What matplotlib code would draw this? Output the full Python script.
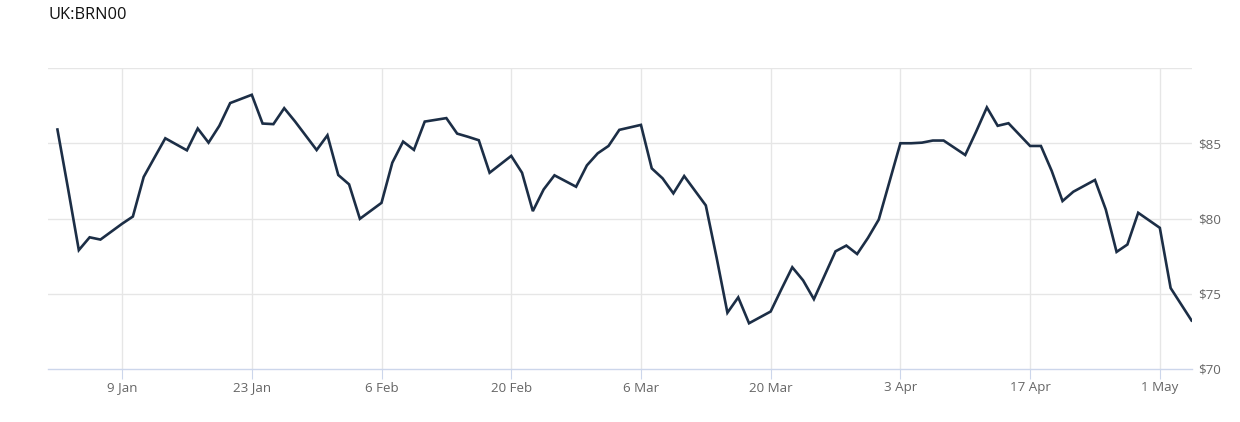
import matplotlib
matplotlib.use("Agg")
import matplotlib.pyplot as plt
import pandas as pd

title = "UK:BRN00"

dates = [
    "2023-01-02", "2023-01-03", "2023-01-04", "2023-01-05", "2023-01-06",
    "2023-01-09", "2023-01-10", "2023-01-11", "2023-01-12", "2023-01-13",
    "2023-01-16", "2023-01-17", "2023-01-18", "2023-01-19", "2023-01-20",
    "2023-01-23", "2023-01-24", "2023-01-25", "2023-01-26", "2023-01-27",
    "2023-01-30", "2023-01-31", "2023-02-01", "2023-02-02", "2023-02-03",
    "2023-02-06", "2023-02-07", "2023-02-08", "2023-02-09", "2023-02-10",
    "2023-02-13", "2023-02-14", "2023-02-15", "2023-02-16", "2023-02-17",
    "2023-02-20", "2023-02-21", "2023-02-22", "2023-02-23", "2023-02-24",
    "2023-02-27", "2023-02-28", "2023-03-01", "2023-03-02", "2023-03-03",
    "2023-03-06", "2023-03-07", "2023-03-08", "2023-03-09", "2023-03-10",
    "2023-03-13", "2023-03-14", "2023-03-15", "2023-03-16", "2023-03-17",
    "2023-03-20", "2023-03-21", "2023-03-22", "2023-03-23", "2023-03-24",
    "2023-03-27", "2023-03-28", "2023-03-29", "2023-03-30", "2023-03-31",
    "2023-04-03", "2023-04-04", "2023-04-05", "2023-04-06", "2023-04-07",
    "2023-04-10", "2023-04-11", "2023-04-12", "2023-04-13", "2023-04-14",
    "2023-04-17", "2023-04-18", "2023-04-19", "2023-04-20", "2023-04-21",
    "2023-04-24", "2023-04-25", "2023-04-26", "2023-04-27", "2023-04-28",
    "2023-05-01", "2023-05-02", "2023-05-04",
]

prices = [
    86.00, 82.00, 77.90, 78.75, 78.60,
    79.65, 80.13, 82.76, 84.05, 85.33,
    84.53, 85.98, 85.04, 86.16, 87.67,
    88.22, 86.31, 86.27, 87.33, 86.45,
    84.55, 85.53, 82.89, 82.27, 79.98,
    81.04, 83.71, 85.11, 84.56, 86.44,
    86.67, 85.64, 85.43, 85.20, 83.04,
    84.16, 83.04, 80.49, 81.93, 82.87,
    82.11, 83.53, 84.33, 84.82, 85.89,
    86.22, 83.33, 82.67, 81.67, 82.82,
    80.87, 77.40, 73.74, 74.76, 73.04,
    73.82, 75.31, 76.76, 75.89, 74.64,
    77.82, 78.20, 77.64, 78.71, 79.93,
    85.00, 85.00, 85.04, 85.18, 85.18,
    84.22, 85.76, 87.38, 86.16, 86.33,
    84.82, 84.82, 83.16, 81.16, 81.78,
    82.56, 80.60, 77.78, 78.27, 80.38,
    79.38, 75.38, 73.15,
]

tick_dates = ["2023-01-09", "2023-01-23", "2023-02-06", "2023-02-20", "2023-03-06",
              "2023-03-20", "2023-04-03", "2023-04-17", "2023-05-01"]
tick_labels = ["9 Jan", "23 Jan", "6 Feb", "20 Feb", "6 Mar",
               "20 Mar", "3 Apr", "17 Apr", "1 May"]
y_ticks = [70, 75, 80, 85, 90]
y_tick_labels = ["$70", "$75", "$80", "$85", ""]


def slot(d):
    """Position on the chart's time axis (six slots per week)."""
    days = (pd.Timestamp(d) - pd.Timestamp("2023-01-02")).days
    return 6 * (days // 7) + days % 7


xs = [slot(d) for d in dates]
tick_x = [slot(d) for d in tick_dates]

W, H = 1240, 422
fig = plt.figure(figsize=(W / 100, H / 100), dpi=100)
fig.patch.set_facecolor("white")

left_px, right_px, top_px, bottom_px = 48, 1192, 68, 369
ax = fig.add_axes([left_px / W, (H - bottom_px) / H,
                   (right_px - left_px) / W, (bottom_px - top_px) / H])

x0_px, step_px = 57.2, 10.81
ax.set_xlim((left_px - x0_px) / step_px, (right_px - x0_px) / step_px)
ax.set_ylim(70, 90)

grid_color = "#e6e6e6"
for yv in y_ticks[1:]:
    ax.axhline(yv, color=grid_color, lw=1, zorder=1)
for xv in tick_x:
    ax.axvline(xv, color=grid_color, lw=1, zorder=1)

ax.plot(xs, prices, color="#1c2e46", lw=1.9, zorder=3,
        solid_joinstyle="miter", solid_capstyle="butt")

for s in ["top", "left", "right"]:
    ax.spines[s].set_visible(False)
ax.spines["bottom"].set_color("#ccd6eb")
ax.spines["bottom"].set_linewidth(1)

label_font = "Open Sans"
ax.set_xticks(tick_x)
ax.set_xticklabels(tick_labels, fontsize=9.6, color="#666666", family=label_font)
ax.tick_params(axis="x", length=7.5, width=0.8, color="#ccd6eb", pad=1.5)

ax.yaxis.tick_right()
ax.set_yticks(y_ticks)
ax.set_yticklabels(y_tick_labels, fontsize=9.6, color="#666666", family=label_font)
ax.tick_params(axis="y", length=0, pad=4.5)

fig.text(48 / W, 1 - 15 / H, title, fontsize=11.8, color="#111111",
         family=label_font, va="center", ha="left")

fig.savefig("out.png", dpi=100)
